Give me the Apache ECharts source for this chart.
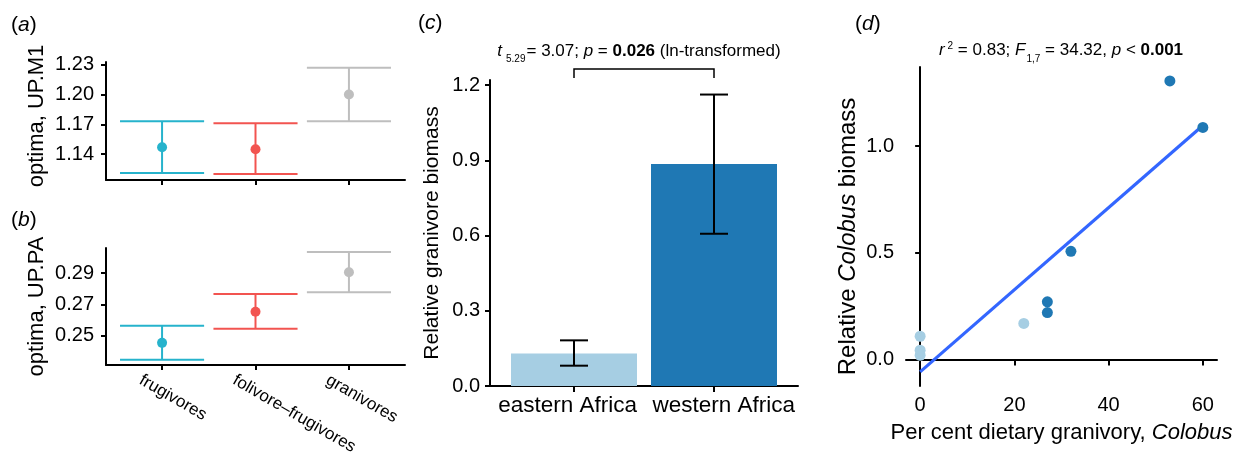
<!DOCTYPE html>
<html><head><meta charset="utf-8">
<script src="https://cdn.jsdelivr.net/npm/echarts@6/dist/echarts.min.js"></script>
<style>html,body{margin:0;padding:0;background:#fff}#c{width:1239px;height:455px}</style>
</head><body><div id="c"></div>
<script>
// ---------- data ----------
const dietGroups = ['frugivores', 'folivore\u2013frugivores', 'granivores'];
const m1Mean  = [1.147, 1.145, 1.200];
const m1Lower = [1.121, 1.120, 1.173];
const m1Upper = [1.173, 1.171, 1.227];
const paMean  = [0.2453, 0.2652, 0.2906];
const paLower = [0.2344, 0.2543, 0.2777];
const paUpper = [0.2563, 0.2766, 0.3035];
const m1Ticks = [1.14, 1.17, 1.20, 1.23];
const paTicks = [0.25, 0.27, 0.29];

const regionNames = ['eastern Africa', 'western Africa'];
const biomassMean  = [0.13, 0.885];
const biomassLower = [0.081, 0.607];
const biomassUpper = [0.182, 1.162];
const biomassTicks = [0, 0.3, 0.6, 0.9, 1.2];

const granivoryPct   = [0, 0, 0, 22, 27, 27, 32, 53, 60];
const colobusBiomass = [0.109, 0.044, 0.020, 0.169, 0.270, 0.220, 0.507, 1.305, 1.087];
const colobusRegion  = [0, 0, 0, 0, 1, 1, 1, 1, 1];
const pctTicks = [0, 20, 40, 60];
const colobusTicks = [0, 0.5, 1.0];

// ---------- styling ----------
const FONT = 'Liberation Sans, Arial, Helvetica, sans-serif';
const dietColors = ['#26B3CC', '#F25450', '#BEBEBE'];
const regionColors = ['#A6CEE3', '#1F78B4'];
const AX = { lineStyle: { color: '#000', width: 2 } };

// least-squares fit from the data
const n = granivoryPct.length;
const mx = granivoryPct.reduce((a, b) => a + b, 0) / n;
const my = colobusBiomass.reduce((a, b) => a + b, 0) / n;
let sxy = 0, sxx = 0;
for (let i = 0; i < n; i++) { sxy += (granivoryPct[i] - mx) * (colobusBiomass[i] - my); sxx += (granivoryPct[i] - mx) ** 2; }
const slope = sxy / sxx, icpt = my - slope * mx;
const xMin = Math.min(...granivoryPct), xMax = Math.max(...granivoryPct);

function errRender(colorFn, halfW, lw) {
  return function (params, api) {
    const x = api.value(0), lo = api.value(1), hi = api.value(2);
    const c = colorFn(params.dataIndex);
    const a = api.coord([x, lo]), b = api.coord([x, hi]);
    const l1 = api.coord([x - halfW, lo]), r1 = api.coord([x + halfW, lo]);
    const l2 = api.coord([x - halfW, hi]), r2 = api.coord([x + halfW, hi]);
    const st = { stroke: c, lineWidth: lw, fill: null };
    return { type: 'group', children: [
      { type: 'line', shape: { x1: a[0], y1: a[1], x2: b[0], y2: b[1] }, style: st },
      { type: 'line', shape: { x1: l1[0], y1: l1[1], x2: r1[0], y2: r1[1] }, style: st },
      { type: 'line', shape: { x1: l2[0], y1: l2[1], x2: r2[0], y2: r2[1] }, style: st }
    ] };
  };
}

function dietX(idx, showLabels) {
  return {
    type: 'value', gridIndex: idx, min: 0.4, max: 3.6,
    axisLine: AX, splitLine: { show: false },
    axisTick: { customValues: [1, 2, 3], length: 5, lineStyle: { color: '#000', width: 2 } },
    axisLabel: showLabels ? {
      customValues: [0.77, 1.77, 2.77], rotate: -30, margin: 14,
      fontSize: 17, color: '#000', fontFamily: FONT,
      formatter: v => dietGroups[Math.round(v) - 1]
    } : { show: false }
  };
}
function yAx(idx, min, max, ticks, dec, name, fs, gap, nfs, margin, pad) {
  return {
    type: 'value', gridIndex: idx, min: min, max: max,
    axisLine: { show: true, ...AX }, splitLine: { show: false },
    axisTick: { show: true, customValues: ticks, length: 5, lineStyle: { color: '#000', width: 2 } },
    axisLabel: { customValues: ticks, formatter: v => v.toFixed(dec), fontSize: fs, color: '#000', fontFamily: FONT, margin: margin },
    name: name, nameLocation: 'middle', nameGap: gap,
    nameTextStyle: { fontSize: nfs, color: '#000', fontFamily: FONT, padding: pad,
      rich: { i: { fontStyle: 'italic', fontSize: nfs, color: '#000', fontFamily: FONT } } }
  };
}

const option = {
  animation: false,
  backgroundColor: '#fff',
  grid: [
    { left: 106, top: 62, width: 299, height: 118, outerBoundsMode: 'none' },
    { left: 106, top: 248, width: 299, height: 117, outerBoundsMode: 'none' },
    { left: 490, top: 80, width: 308, height: 306, outerBoundsMode: 'none' },
    { left: 906, top: 67, width: 311, height: 319, outerBoundsMode: 'none' }
  ],
  xAxis: [
    dietX(0, false),
    dietX(1, true),
    { type: 'value', gridIndex: 2, min: 0.4, max: 2.6, axisLine: AX, splitLine: { show: false },
      axisTick: { customValues: [1, 2], length: 6, lineStyle: { color: '#000', width: 2 } },
      axisLabel: { customValues: [0.955, 2.07], formatter: v => regionNames[Math.round(v) - 1], fontSize: 22.5, color: '#000', fontFamily: FONT, margin: 8 } },
    { type: 'value', gridIndex: 3, min: -3, max: 63, axisLine: AX, splitLine: { show: false },
      axisTick: { customValues: pctTicks, length: 6, lineStyle: { color: '#000', width: 2 } },
      axisLabel: { customValues: pctTicks, fontSize: 20, color: '#000', fontFamily: FONT, margin: 9 },
      name: 'Per cent dietary granivory, {i|Colobus}', nameLocation: 'middle', nameGap: 36,
      nameTextStyle: { fontSize: 22, color: '#000', fontFamily: FONT,
        rich: { i: { fontStyle: 'italic', fontSize: 22, color: '#000', fontFamily: FONT } } } }
  ],
  yAxis: [
    yAx(0, 1.114, 1.2327, m1Ticks, 2, 'optima, UP.M1', 20, 58, 22, 12, [0, 0, 0, 10]),
    yAx(1, 0.2311, 0.3061, paTicks, 2, 'optima, UP.PA', 20, 58, 22, 12, [0, 0, 0, 0]),
    yAx(2, 0, 1.22, biomassTicks, 1, 'Relative granivore biomass', 20, 47, 21, 10, [0, 0, 0, 0]),
    yAx(3, -0.124, 1.37, colobusTicks, 1, 'Relative {i|Colobus} biomass', 20, 46, 24, 12, [0, 20, 0, 0])
  ],
  graphic: [
    { type: 'text', x: 11, y: 25, style: { text: '({i|a})', fontSize: 21, fontFamily: FONT, fill: '#000', verticalAlign: 'middle',
        rich: { i: { fontStyle: 'italic', fontSize: 21, fontFamily: FONT } } } },
    { type: 'text', x: 11, y: 220, style: { text: '({i|b})', fontSize: 21, fontFamily: FONT, fill: '#000', verticalAlign: 'middle',
        rich: { i: { fontStyle: 'italic', fontSize: 21, fontFamily: FONT } } } },
    { type: 'text', x: 418, y: 23, style: { text: '({i|c})', fontSize: 21, fontFamily: FONT, fill: '#000', verticalAlign: 'middle',
        rich: { i: { fontStyle: 'italic', fontSize: 21, fontFamily: FONT } } } },
    { type: 'text', x: 855, y: 24, style: { text: '({i|d})', fontSize: 21, fontFamily: FONT, fill: '#000', verticalAlign: 'middle',
        rich: { i: { fontStyle: 'italic', fontSize: 21, fontFamily: FONT } } } },
    { type: 'text', x: 639, y: 38, style: {
        text: '{it|t}{sub|5.29}{n|= 3.07; }{it|p}{n| = }{b|0.026}{n| (ln-transformed)}',
        align: 'center', verticalAlign: 'top', fill: '#000', fontFamily: FONT, fontSize: 17,
        rich: {
          n: { fontSize: 17, lineHeight: 26, fontFamily: FONT },
          it: { fontSize: 17, lineHeight: 26, fontStyle: 'italic', fontFamily: FONT },
          b: { fontSize: 17, lineHeight: 26, fontWeight: 'bold', fontFamily: FONT },
          sub: { fontSize: 10, lineHeight: 10, verticalAlign: 'bottom', padding: [0, 1, 0, 4], fontFamily: FONT }
        } } },
    { type: 'text', x: 1061, y: 36, style: {
        text: '{it|r}{sup|2}{n| = 0.83; }{it|F}{sub|1,7}{n| = 34.32, }{it|p}{n| < }{b|0.001}',
        align: 'center', verticalAlign: 'top', fill: '#000', fontFamily: FONT, fontSize: 17,
        rich: {
          n: { fontSize: 17, lineHeight: 28, fontFamily: FONT },
          it: { fontSize: 17, lineHeight: 28, fontStyle: 'italic', fontFamily: FONT },
          b: { fontSize: 17, lineHeight: 28, fontWeight: 'bold', fontFamily: FONT },
          sup: { fontSize: 10, lineHeight: 10, verticalAlign: 'top', padding: [5, 0, 0, 3], fontFamily: FONT },
          sub: { fontSize: 10, lineHeight: 10, verticalAlign: 'bottom', padding: [0, 0, 0, 1], fontFamily: FONT }
        } } }
  ],
  series: [
    // panel a
    { type: 'custom', xAxisIndex: 0, yAxisIndex: 0, encode: { x: 0, y: [1, 2] },
      renderItem: errRender(i => dietColors[i], 0.45, 2),
      data: dietGroups.map((g, i) => [i + 1, m1Lower[i], m1Upper[i]]) },
    { type: 'scatter', xAxisIndex: 0, yAxisIndex: 0, symbolSize: 10, z: 5,
      data: dietGroups.map((g, i) => ({ value: [i + 1, m1Mean[i]], itemStyle: { color: dietColors[i], opacity: 1 } })) },
    // panel b
    { type: 'custom', xAxisIndex: 1, yAxisIndex: 1, encode: { x: 0, y: [1, 2] },
      renderItem: errRender(i => dietColors[i], 0.45, 2),
      data: dietGroups.map((g, i) => [i + 1, paLower[i], paUpper[i]]) },
    { type: 'scatter', xAxisIndex: 1, yAxisIndex: 1, symbolSize: 10, z: 5,
      data: dietGroups.map((g, i) => ({ value: [i + 1, paMean[i]], itemStyle: { color: dietColors[i], opacity: 1 } })) },
    // panel c bars
    { type: 'custom', xAxisIndex: 2, yAxisIndex: 2, encode: { x: 0, y: 1 },
      renderItem: function (params, api) {
        const x = api.value(0), v = api.value(1);
        const p1 = api.coord([x - 0.45, v]), p2 = api.coord([x + 0.45, 0]);
        return { type: 'rect', shape: { x: p1[0], y: p1[1], width: p2[0] - p1[0], height: p2[1] - p1[1] },
          style: { fill: regionColors[params.dataIndex] } };
      },
      data: regionNames.map((r, i) => [i + 1, biomassMean[i]]) },
    { type: 'custom', xAxisIndex: 2, yAxisIndex: 2, encode: { x: 0, y: [1, 2] }, z: 4,
      renderItem: errRender(() => '#000', 0.1, 2),
      data: regionNames.map((r, i) => [i + 1, biomassLower[i], biomassUpper[i]]) },
    // comparison bracket between the two regions
    { type: 'custom', xAxisIndex: 2, yAxisIndex: 2, clip: false, encode: { x: [0, 1] },
      renderItem: function (params, api) {
        const a = api.value(0), b = api.value(1);
        const top = 1.264, foot = 1.228;
        const pts = [api.coord([a, foot]), api.coord([a, top]), api.coord([b, top]), api.coord([b, foot])];
        return { type: 'polyline', shape: { points: pts }, style: { stroke: '#000', lineWidth: 1.5, fill: null } };
      },
      data: [[1, 2]] },
    // panel d
    { type: 'line', xAxisIndex: 3, yAxisIndex: 3, showSymbol: false, z: 2,
      lineStyle: { color: '#3366FF', width: 3.2 },
      data: [[xMin, icpt + slope * xMin], [xMax, icpt + slope * xMax]] },
    { type: 'scatter', xAxisIndex: 3, yAxisIndex: 3, symbolSize: 11, z: 5,
      data: granivoryPct.map((x, i) => ({ value: [x, colobusBiomass[i]], itemStyle: { color: regionColors[colobusRegion[i]], opacity: 1 } })) }
  ]
};
const chart = echarts.init(document.getElementById('c'), null, { renderer: 'canvas' });
chart.setOption(option);
</script>
</body></html>
